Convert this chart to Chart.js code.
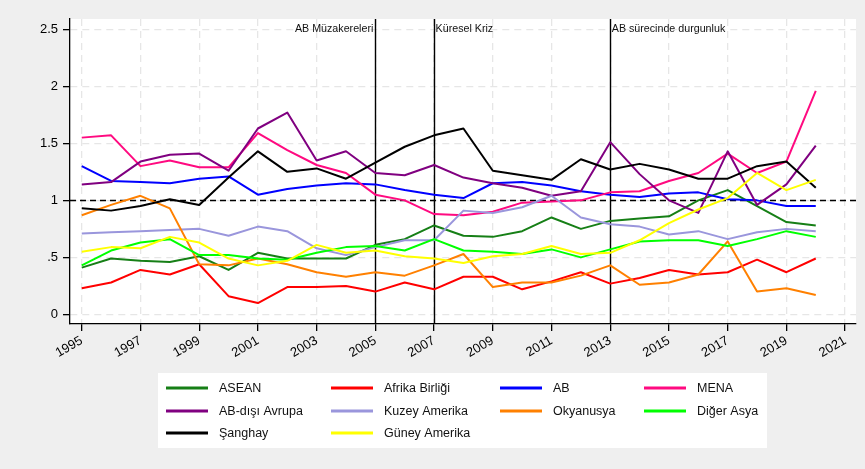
<!DOCTYPE html>
<html>
<head>
<meta charset="utf-8">
<script src="https://cdn.jsdelivr.net/npm/chart.js@4.4.0/dist/chart.umd.min.js"></script>
<style>
  html, body { margin: 0; padding: 0; background: #efefef; }
</style>
</head>
<body>
<canvas id="myChart" width="865" height="469"></canvas>
<script>
const years = [1995, 1996, 1997, 1998, 1999, 2000, 2001, 2002, 2003, 2004, 2005, 2006, 2007,
  2008, 2009, 2010, 2011, 2012, 2013, 2014, 2015, 2016, 2017, 2018, 2019, 2020];

const asean = [0.41, 0.49, 0.47, 0.46, 0.51, 0.39, 0.54, 0.49, 0.49, 0.49, 0.61, 0.66, 0.78, 0.69, 0.68, 0.73, 0.85, 0.75, 0.82, 0.84, 0.86, 1.00, 1.09, 0.95, 0.81, 0.78];
const afrika = [0.23, 0.28, 0.39, 0.35, 0.44, 0.16, 0.10, 0.24, 0.24, 0.25, 0.20, 0.28, 0.22, 0.33, 0.33, 0.22, 0.29, 0.37, 0.27, 0.32, 0.39, 0.35, 0.37, 0.48, 0.37, 0.49];
const ab = [1.30, 1.17, 1.16, 1.15, 1.19, 1.21, 1.05, 1.10, 1.13, 1.15, 1.14, 1.09, 1.05, 1.02, 1.15, 1.16, 1.13, 1.08, 1.05, 1.03, 1.06, 1.07, 1.01, 1.00, 0.95, 0.95];
const mena = [1.55, 1.57, 1.30, 1.35, 1.29, 1.29, 1.59, 1.44, 1.31, 1.24, 1.05, 1.00, 0.88, 0.87, 0.90, 0.98, 0.99, 1.00, 1.07, 1.08, 1.17, 1.24, 1.41, 1.24, 1.34, 1.96];
const abDisi = [1.14, 1.16, 1.34, 1.40, 1.41, 1.26, 1.63, 1.77, 1.35, 1.43, 1.24, 1.22, 1.31, 1.20, 1.15, 1.11, 1.04, 1.08, 1.51, 1.23, 1.00, 0.89, 1.43, 0.96, 1.14, 1.48];
const kuzey = [0.71, 0.72, 0.73, 0.74, 0.75, 0.69, 0.77, 0.73, 0.58, 0.52, 0.59, 0.65, 0.65, 0.91, 0.89, 0.94, 1.04, 0.85, 0.79, 0.77, 0.70, 0.73, 0.66, 0.72, 0.75, 0.73];
const okyanusya = [0.87, 0.96, 1.04, 0.93, 0.44, 0.43, 0.49, 0.44, 0.37, 0.33, 0.37, 0.34, 0.43, 0.53, 0.24, 0.28, 0.28, 0.34, 0.43, 0.26, 0.28, 0.35, 0.64, 0.20, 0.23, 0.17];
const digerAsya = [0.43, 0.56, 0.63, 0.66, 0.52, 0.52, 0.49, 0.48, 0.54, 0.59, 0.60, 0.56, 0.66, 0.56, 0.55, 0.53, 0.57, 0.50, 0.57, 0.64, 0.65, 0.65, 0.60, 0.66, 0.73, 0.68];
const sanghay = [0.93, 0.91, 0.95, 1.01, 0.96, 1.20, 1.43, 1.25, 1.28, 1.19, 1.33, 1.47, 1.57, 1.63, 1.26, 1.22, 1.18, 1.36, 1.27, 1.32, 1.27, 1.19, 1.19, 1.30, 1.34, 1.11];
const guney = [0.55, 0.59, 0.58, 0.68, 0.63, 0.49, 0.43, 0.47, 0.61, 0.54, 0.56, 0.51, 0.49, 0.45, 0.51, 0.53, 0.60, 0.53, 0.54, 0.65, 0.80, 0.92, 1.02, 1.24, 1.09, 1.18];

const names = ['ASEAN', 'Afrika Birliği', 'AB', 'MENA', 'AB-dışı Avrupa', 'Kuzey Amerika',
  'Okyanusya', 'Diğer Asya', 'Şanghay', 'Güney Amerika'];
const series = [asean, afrika, ab, mena, abDisi, kuzey, okyanusya, digerAsya, sanghay, guney];
const colors = ['#167f16', '#ff0000', '#0000ff', '#ff0a80', '#800080', '#9a96dc',
  '#ff8000', '#00ff00', '#000000', '#ffff00'];

const xTicks = [1995, 1997, 1999, 2001, 2003, 2005, 2007, 2009, 2011, 2013, 2015, 2017, 2019, 2021];
const yTicks = [0, 0.5, 1, 1.5, 2, 2.5];
const yTickLabels = ['0', '.5', '1', '1.5', '2', '2.5'];

const eventYears = [2005, 2007, 2013];
const eventLabels = ['AB Müzakereleri', 'Küresel Kriz', 'AB sürecinde durgunluk'];
const eventAlign = ['right', 'left', 'left'];
const refValue = 1;

const FONT = "'Liberation Sans', Arial, Helvetica, sans-serif";
Chart.defaults.font.family = FONT;
Chart.defaults.color = '#000';

// background: gray graph region, white plot region
const bgPlugin = {
  id: 'bg',
  beforeDraw(chart) {
    let ctx = chart.ctx;
    let a = chart.chartArea;
    ctx.save();
    ctx.fillStyle = '#efefef';
    ctx.fillRect(0, 0, chart.width, chart.height);
    ctx.fillStyle = '#ffffff';
    ctx.fillRect(a.left, a.top, a.right - a.left, a.bottom - a.top);
    ctx.restore();
  }
};

// yline(1) and the xlines with their notes
const linesPlugin = {
  id: 'lines',
  beforeDatasetsDraw(chart) {
    let ctx = chart.ctx;
    let a = chart.chartArea;
    let xs = chart.scales.x;
    let ys = chart.scales.y;
    ctx.save();
    ctx.strokeStyle = '#000';
    ctx.lineWidth = 1.4;
    ctx.setLineDash([6, 4]);
    let yy = Math.round(ys.getPixelForValue(refValue)) + 0.5;
    ctx.beginPath();
    ctx.moveTo(a.left, yy);
    ctx.lineTo(a.right, yy);
    ctx.stroke();
    ctx.setLineDash([]);
    eventYears.forEach((yr) => {
      let x = Math.round(xs.getPixelForValue(yr)) + 0.5;
      ctx.beginPath();
      ctx.moveTo(x, a.top);
      ctx.lineTo(x, a.bottom);
      ctx.stroke();
    });
    ctx.restore();
  },
  afterDatasetsDraw(chart) {
    let ctx = chart.ctx;
    let xs = chart.scales.x;
    let ys = chart.scales.y;
    ctx.save();
    ctx.font = `10.7px ${FONT}`;
    ctx.fillStyle = '#111';
    ctx.textBaseline = 'middle';
    let ty = ys.getPixelForValue(2.5);
    eventYears.forEach((yr, i) => {
      let x = xs.getPixelForValue(yr);
      ctx.textAlign = eventAlign[i];
      ctx.fillText(eventLabels[i], eventAlign[i] === 'right' ? x - 2 : x + 1.5, ty);
    });
    ctx.restore();
  }
};

// Stata-like legend: 4 columns in a white box
const legendPlugin = {
  id: 'gridLegend',
  afterDraw(chart) {
    let ctx = chart.ctx;
    let box = { left: 158, top: 373, right: 767, bottom: 448 };
    let colX = [166, 331, 500, 644];
    let rowY = [388, 411, 433];
    ctx.save();
    ctx.fillStyle = '#ffffff';
    ctx.fillRect(box.left, box.top, box.right - box.left, box.bottom - box.top);
    ctx.font = `12.5px ${FONT}`;
    ctx.textBaseline = 'middle';
    ctx.textAlign = 'left';
    chart.data.datasets.forEach((ds, i) => {
      let cx = colX[i % 4];
      let cy = rowY[Math.floor(i / 4)];
      ctx.strokeStyle = ds.borderColor;
      ctx.lineWidth = 3;
      ctx.beginPath();
      ctx.moveTo(cx, cy);
      ctx.lineTo(cx + 42, cy);
      ctx.stroke();
      ctx.fillStyle = '#111';
      ctx.fillText(ds.label, cx + 53, cy + 0.5);
    });
    ctx.restore();
  }
};

let datasets = [];
for (let i = 0; i < names.length; i++) {
  datasets.push({
    label: names[i],
    data: years.map((yr, j) => ({ x: yr, y: series[i][j] })),
    borderColor: colors[i],
    backgroundColor: colors[i],
    borderWidth: 2,
    pointRadius: 0,
    tension: 0,
    borderJoinStyle: 'round',
    order: names.length - i
  });
}

const config = {
  type: 'line',
  data: { datasets: datasets },
  options: {
    responsive: false,
    animation: false,
    devicePixelRatio: 1,
    layout: { padding: { left: 0, top: 19, right: 9, bottom: 0 } },
    plugins: {
      legend: { display: false },
      title: { display: false },
      tooltip: { enabled: false }
    },
    scales: {
      x: {
        type: 'linear',
        min: 1994.6,
        max: 2021.37,
        afterBuildTicks: (scale) => { scale.ticks = xTicks.map(v => ({ value: v })); },
        afterFit: (scale) => { scale.height = 145; },
        ticks: {
          autoSkip: false,
          minRotation: 30,
          maxRotation: 30,
          padding: 2,
          color: '#000',
          font: { size: 13 },
          callback: (v) => String(v)
        },
        grid: {
          color: '#e6e6e6',
          lineWidth: 1.3,
          tickColor: '#000',
          tickLength: 7,
          tickWidth: 1.3
        },
        border: { color: '#000', width: 1.3, dash: [7, 5] }
      },
      y: {
        type: 'linear',
        min: -0.084,
        max: 2.59,
        afterBuildTicks: (scale) => { scale.ticks = yTicks.map(v => ({ value: v })); },
        afterFit: (scale) => { scale.width = 70; },
        ticks: {
          padding: 5,
          color: '#000',
          font: { size: 13 },
          callback: (v) => yTickLabels[yTicks.indexOf(v)]
        },
        grid: {
          color: '#e6e6e6',
          lineWidth: 1.3,
          tickColor: '#000',
          tickLength: 7,
          tickWidth: 1.3
        },
        border: { color: '#000', width: 1.3, dash: [7, 5] }
      }
    }
  },
  plugins: [bgPlugin, linesPlugin, legendPlugin]
};

const chart_ = new Chart(document.getElementById('myChart').getContext('2d'), config);
</script>
</body>
</html>
